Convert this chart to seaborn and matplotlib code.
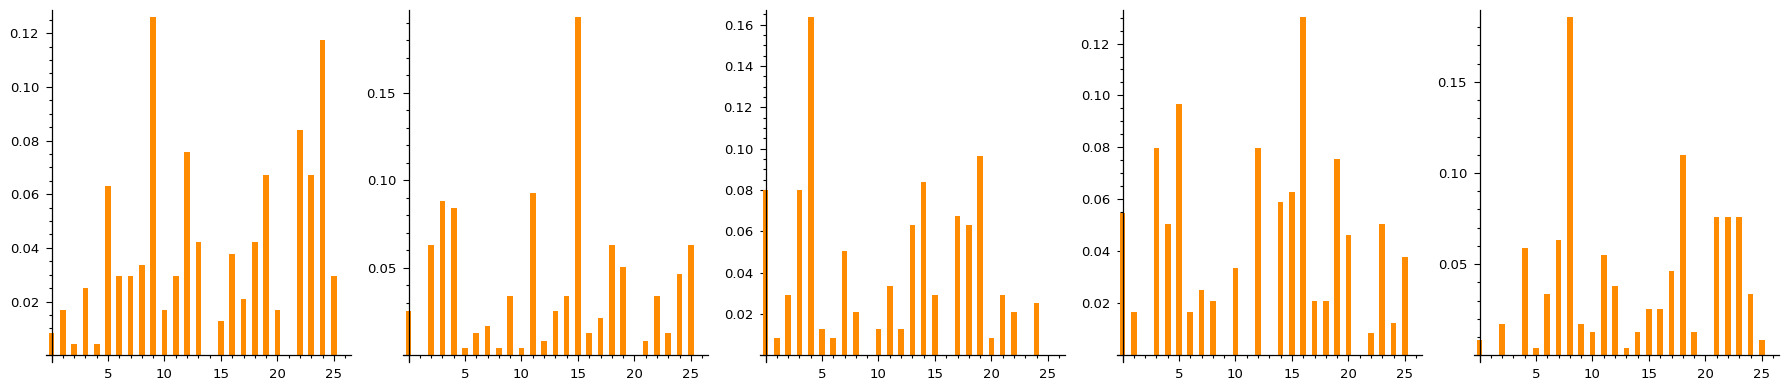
import numpy as np
import pandas as pd
import matplotlib
matplotlib.use("Agg")
import matplotlib.pyplot as plt
from matplotlib.ticker import MaxNLocator, AutoMinorLocator, FuncFormatter
import seaborn as sns

# letter index 0..25
letters_idx = list(range(26))

freq_1 = [0.0084, 0.0168, 0.0042, 0.0252, 0.0042, 0.0630, 0.0294, 0.0294, 0.0336, 0.1261,
          0.0168, 0.0294, 0.0756, 0.0420, 0.0000, 0.0126, 0.0378, 0.0210, 0.0420, 0.0672,
          0.0168, 0.0000, 0.0840, 0.0672, 0.1176, 0.0294]
freq_2 = [0.0252, 0.0000, 0.0630, 0.0882, 0.0840, 0.0042, 0.0126, 0.0168, 0.0042, 0.0336,
          0.0042, 0.0924, 0.0084, 0.0252, 0.0336, 0.1933, 0.0126, 0.0210, 0.0630, 0.0504,
          0.0000, 0.0084, 0.0336, 0.0126, 0.0462, 0.0630]
freq_3 = [0.0798, 0.0084, 0.0294, 0.0798, 0.1639, 0.0126, 0.0084, 0.0504, 0.0210, 0.0000,
          0.0126, 0.0336, 0.0126, 0.0630, 0.0840, 0.0294, 0.0000, 0.0672, 0.0630, 0.0966,
          0.0084, 0.0294, 0.0210, 0.0000, 0.0252, 0.0000]
freq_4 = [0.0546, 0.0168, 0.0000, 0.0798, 0.0504, 0.0966, 0.0168, 0.0252, 0.0210, 0.0000,
          0.0336, 0.0000, 0.0798, 0.0000, 0.0588, 0.0630, 0.1303, 0.0210, 0.0210, 0.0756,
          0.0462, 0.0000, 0.0084, 0.0504, 0.0126, 0.0378]
freq_5 = [0.0084, 0.0000, 0.0169, 0.0000, 0.0591, 0.0042, 0.0338, 0.0633, 0.1857, 0.0169,
          0.0127, 0.0549, 0.0380, 0.0042, 0.0127, 0.0253, 0.0253, 0.0464, 0.1097, 0.0127,
          0.0000, 0.0759, 0.0759, 0.0759, 0.0338, 0.0084]

panels = [freq_1, freq_2, freq_3, freq_4, freq_5]
ORANGE = "#ff8c00"

sns.set_style("ticks")
plt.rcParams.update({
    "font.family": ["DejaVu Sans"],
    "font.size": 9.5,
    "axes.edgecolor": "black",
    "xtick.color": "black",
    "ytick.color": "black",
    "text.color": "black",
    "axes.linewidth": 0.9,
})

fig = plt.figure(figsize=(17.88, 3.89), dpi=100)
W, H = 1788.0, 389.0


def zero_blank_y(v, pos):
    return "" if abs(v) < 1e-12 else f"{v:.2f}"


def zero_blank_x(v, pos):
    return "" if abs(v) < 1e-12 else f"{v:g}"


for k, vals in enumerate(panels):
    left = (45.7 + 357.0 * k) / W
    ax = fig.add_axes([left, 27.0 / H, 305.3 / W, 352.0 / H])
    df = pd.DataFrame({"letter": letters_idx, "freq": vals})
    sns.barplot(data=df, x="letter", y="freq", native_scale=True, width=0.5,
                color=ORANGE, saturation=1, errorbar=None, linewidth=0, ax=ax)
    n = len(vals)
    ymax = max(vals)
    ax.set_xlim(-0.02 * n, n * 1.02)
    ax.set_ylim(-0.02 * ymax, 1.02 * ymax)
    ax.spines["left"].set_position(("data", 0))
    ax.spines["bottom"].set_position(("data", 0))
    ax.spines["right"].set_visible(False)
    ax.spines["top"].set_visible(False)
    ax.xaxis.set_major_locator(MaxNLocator(nbins=9, steps=[1, 2, 5, 10]))
    ax.yaxis.set_major_locator(MaxNLocator(nbins=9, steps=[1, 2, 5, 10]))
    ax.xaxis.set_minor_locator(AutoMinorLocator())
    ax.yaxis.set_minor_locator(AutoMinorLocator())
    ax.xaxis.set_major_formatter(FuncFormatter(zero_blank_x))
    ax.yaxis.set_major_formatter(FuncFormatter(zero_blank_y))
    ax.tick_params(which="major", direction="out", length=4, width=0.8, pad=5)
    ax.tick_params(which="minor", direction="out", length=2.2, width=0.8)
    ax.set_xlabel("")
    ax.set_ylabel("")
    ax.grid(False)

fig.savefig("out.png", dpi=100)
